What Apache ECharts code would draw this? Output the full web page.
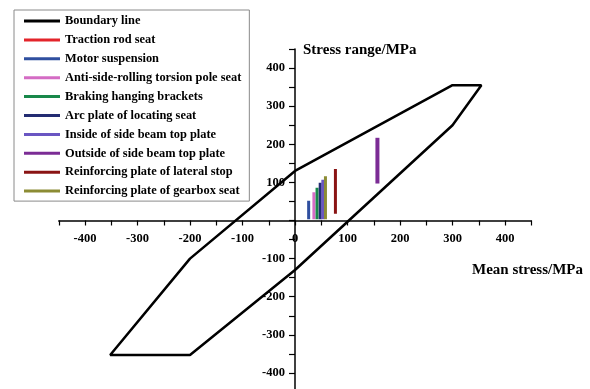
<!DOCTYPE html>
<html>
<head>
<meta charset="utf-8">
<script src="https://cdn.jsdelivr.net/npm/echarts@6/dist/echarts.min.js"></script>
<style>
  html, body { margin: 0; padding: 0; background: #fff; }
  #chart { width: 590px; height: 389px; }
</style>
</head>
<body>
<div id="chart"></div>
<script>
// Allowable stress boundary (mean stress, stress range), closed polygon
const boundaryMean  = [0, 300, 355, 300, 0, -200, -352, -200, 0];
const boundaryRange = [130, 355, 355, 250, -130, -353, -353, -100, 130];

// Measured points: each location is a vertical segment at its mean stress
const seriesNames = [
  'Traction rod seat',
  'Motor suspension',
  'Anti-side-rolling torsion pole seat',
  'Braking hanging brackets',
  'Arc plate of locating seat',
  'Inside of side beam top plate',
  'Outside of side beam top plate',
  'Reinforcing plate of lateral stop',
  'Reinforcing plate of gearbox seat'
];
const seriesColors = ['#e3242b', '#2f4f9f', '#d46cc4', '#18884a', '#232c72',
                      '#6a56c2', '#7b2c95', '#8a1414', '#8c8c34'];
const meanStress = [null, 26, 36, 42, 48, 53, 157, 77, 58];
const rangeLow   = [null, 3, 3, 3, 3, 3, 97, 18, 3];
const rangeHigh  = [null, 52, 74, 86, 99, 107, 217, 135, 116];

const xLabels = [-400, -300, -200, -100, 0, 100, 200, 300, 400];
const yLabels = [-400, -300, -200, -100, 100, 200, 300, 400];

const font = 'Liberation Serif';
const gridLeft = 58.75, gridWidth = 472.5, gridTop = 49, gridHeight = 343;
const chart = echarts.init(document.getElementById('chart'), null, { renderer: 'canvas' });

const series = [{
  name: 'Boundary line',
  type: 'line',
  data: boundaryMean.map((m, i) => [m, boundaryRange[i]]),
  symbol: 'none',
  lineStyle: { color: '#000', width: 2.5 },
  itemStyle: { color: '#000' },
  z: 3,
  animation: false
}];
seriesNames.forEach((name, i) => {
  const data = meanStress[i] === null ? [] :
    [[meanStress[i], rangeLow[i]], [meanStress[i], rangeHigh[i]]];
  series.push({
    name,
    type: 'line',
    data,
    symbol: 'none',
    lineStyle: { color: seriesColors[i], width: meanStress[i] > 100 ? 4 : 3, cap: 'butt' },
    itemStyle: { color: seriesColors[i] },
    z: 4,
    animation: false
  });
});

const axisCommon = {
  type: 'value',
  min: -450,
  max: 450,
  interval: 50,
  splitLine: { show: false },
  axisLine: { onZero: false, lineStyle: { color: '#000', width: 1.5 } },
  axisTick: { inside: false, length: 5, lineStyle: { color: '#000', width: 1.2 } }
};

chart.setOption({
  backgroundColor: '#fff',
  animation: false,
  grid: {
    left: gridLeft, width: gridWidth, top: gridTop, height: gridHeight,
    containLabel: false, outerBoundsMode: 'none'
  },
  // both axes cross at the origin (centre of the symmetric ranges)
  xAxis: Object.assign({}, axisCommon, {
    position: 'bottom',
    offset: -gridHeight / 2,
    axisLabel: {
      customValues: xLabels,
      margin: 12,
      color: '#000',
      fontFamily: font,
      fontWeight: 'bold',
      fontSize: 12.5
    }
  }),
  yAxis: Object.assign({}, axisCommon, {
    position: 'left',
    offset: -gridWidth / 2,
    axisTick: { inside: false, length: 6, lineStyle: { color: '#000', width: 1.2 } },
    axisLabel: {
      customValues: yLabels,
      margin: 10,
      color: '#000',
      fontFamily: font,
      fontWeight: 'bold',
      fontSize: 12.5
    }
  }),
  legend: {
    orient: 'vertical',
    left: 14,
    top: 10,
    padding: [4, 8, 3, 10],
    itemGap: 4.9,
    itemWidth: 36,
    itemHeight: 3,
    icon: 'rect',
    backgroundColor: '#fff',
    borderColor: '#8a8a8a',
    borderWidth: 1,
    textStyle: {
      color: '#000',
      fontFamily: font,
      fontWeight: 'bold',
      fontSize: 12.4,
      lineHeight: 14
    },
    data: ['Boundary line'].concat(seriesNames)
  },
  graphic: [
    {
      type: 'text',
      left: 303,
      top: 43,
      style: { text: 'Stress range/MPa', fill: '#000', font: 'bold 15px "Liberation Serif"' }
    },
    {
      type: 'text',
      right: 7,
      top: 263,
      style: { text: 'Mean stress/MPa', fill: '#000', font: 'bold 15px "Liberation Serif"' }
    }
  ],
  series
});
</script>
</body>
</html>
